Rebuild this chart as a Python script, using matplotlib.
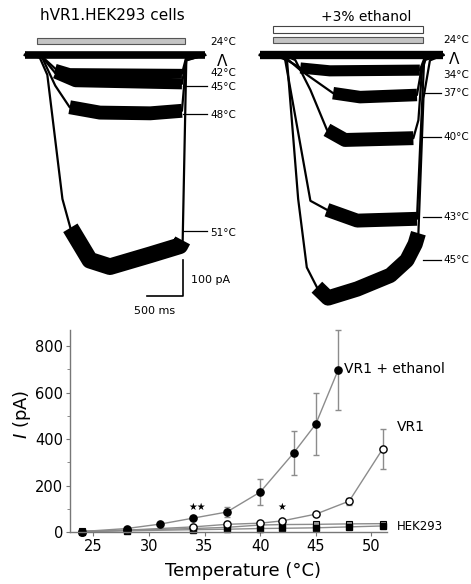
import matplotlib
matplotlib.use("Agg")
import matplotlib.pyplot as plt
from matplotlib.patches import Rectangle

plt.rcParams['font.family'] = ['DejaVu Sans']

# ---------------- current traces (time in ms, current in pA) ----------------
# control cells (left)
t_24 = [0, 2500]
i_24 = [0, 0]
t_42 = [0, 240, 420, 620, 2180, 2240, 2500]
i_42 = [0, -5, -38, -50, -52, -6, 0]
t_45 = [0, 240, 420, 700, 2180, 2240, 2500]
i_45 = [0, -6, -50, -74, -80, -8, 0]
t_48 = [0, 240, 420, 620, 1040, 1740, 2180, 2240, 2500]
i_48 = [0, -8, -85, -145, -160, -162, -155, -14, 0]
t_51 = [0, 200, 310, 520, 630, 900, 1180, 1740, 2150, 2190, 2240, 2500]
i_51 = [0, -5, -55, -400, -480, -570, -588, -555, -530, -515, -15, 0]

# +3% ethanol (right)
te_24 = [0, 2544]
ie_24 = [0, 0]
te_34 = [0, 280, 560, 970, 2220, 2290, 2544]
ie_34 = [0, -3, -36, -44, -42, -6, 0]
te_37 = [0, 350, 560, 1015, 1390, 2180, 2240, 2294, 2544]
ie_37 = [0, -6, -42, -106, -117, -111, -42, -6, 0]
te_40 = [0, 420, 490, 700, 930, 1180, 2130, 2200, 2250, 2310, 2544]
ie_40 = [0, -8, -14, -97, -208, -236, -231, -181, -42, -6, 0]
te_43 = [0, 280, 350, 700, 930, 1350, 2180, 2225, 2280, 2544]
ie_43 = [0, 0, -14, -405, -430, -460, -455, -250, -14, 0]
te_45 = [0, 250, 375, 530, 650, 790, 945, 1350, 1810, 2040, 2155, 2200, 2270, 2360, 2544]
ie_45 = [0, -5, -14, -400, -590, -645, -675, -650, -612, -570, -525, -495, -120, -15, 0]

left_labels = ['24°C', '42°C', '45°C', '48°C', '51°C']
left_label_y = [36, -50, -89, -167, -494]
right_labels = ['24°C', '34°C', '37°C', '40°C', '43°C', '45°C']
right_label_y = [42, -56, -106, -228, -450, -569]

# ---------------- summary data ----------------
temp_eth = [24, 28, 31, 34, 37, 40, 43, 45, 47]
i_eth = [2, 15, 34, 60, 86, 172, 340, 465, 697]
err_eth = [0, 3, 5, 10, 20, 55, 95, 133, 172]

temp_vr1 = [24, 28, 34, 37, 40, 42, 45, 48, 51]
i_vr1 = [2, 8, 22, 33, 38, 48, 77, 133, 357]
err_vr1 = [0, 2, 4, 5, 5, 6, 8, 15, 85]

temp_hek = [24, 28, 34, 37, 40, 42, 45, 48, 51]
i_hek = [2, 5, 10, 12, 15, 16, 18, 22, 26]
i_hek_eth = [3, 8, 15, 20, 30, 32, 33, 35, 36]

W, H = 471, 584
MS_PER_PX = 500 / 36.0
PA_PER_PX = 100 / 36.0

fig = plt.figure(figsize=(W / 100, H / 100), dpi=100)


def px_axes(x0, x1, y0, y1, ox, oy):
    ax = fig.add_axes([x0 / W, 1 - y1 / H, (x1 - x0) / W, (y1 - y0) / H])
    ax.set_xlim((x0 - ox) * MS_PER_PX, (x1 - ox) * MS_PER_PX)
    ax.set_ylim(-(y1 - oy) * PA_PER_PX, -(y0 - oy) * PA_PER_PX)
    ax.axis('off')
    return ax


def draw_trace(ax, t, i, lo, hi, band):
    # thin trace for the fast phases, thick band for the noisy plateau
    ax.plot(t, i, color='k', lw=1.6, solid_joinstyle='round', clip_on=False)
    ax.plot(t[lo:hi + 1], i[lo:hi + 1], color='k', lw=band,
            solid_capstyle='butt', solid_joinstyle='round', clip_on=False)


# left traces
axl = px_axes(0, 240, 0, 330, 25, 55)
axl.add_patch(Rectangle((167, 31), 2224 - 167, 16, facecolor='#c4c4c4',
                        edgecolor='#555555', lw=0.8))
draw_trace(axl, t_51, i_51, 4, 9, 12)
draw_trace(axl, t_48, i_48, 3, 6, 10)
draw_trace(axl, t_45, i_45, 2, 4, 8)
draw_trace(axl, t_42, i_42, 2, 4, 7)
draw_trace(axl, t_24, i_24, 0, 1, 5.5)
axl.text(1208, 111, 'hVR1.HEK293 cells', ha='center', va='center', fontsize=11)

for lab, y in zip(left_labels, left_label_y):
    axl.text(2570, y, lab, ha='left', va='center', fontsize=7.5)
    if lab in ('45°C', '48°C', '51°C'):
        axl.plot([2195, 2530], [y + 4, y + 4], color='k', lw=0.9, clip_on=False)
axl.text(2740, -17, 'Λ', ha='center', va='center', fontsize=11)

# scale bar: 500 ms, 100 pA
axl.plot([1695, 2195, 2195], [-669, -669, -569], color='k', lw=1.2)
axl.text(2300, -625, '100 pA', ha='left', va='center', fontsize=8)
axl.text(1806, -712, '500 ms', ha='center', va='center', fontsize=8)

# right traces
axr = px_axes(240, 471, 0, 330, 260, 55)
axr.add_patch(Rectangle((181, 61), 2266 - 181, 20, facecolor='white',
                        edgecolor='#444444', lw=0.8))
axr.add_patch(Rectangle((181, 33), 2266 - 181, 17, facecolor='#c4c4c4',
                        edgecolor='#555555', lw=0.8))
draw_trace(axr, te_45, ie_45, 5, 11, 11)
draw_trace(axr, te_43, ie_43, 4, 6, 10)
draw_trace(axr, te_40, ie_40, 4, 6, 10)
draw_trace(axr, te_37, ie_37, 3, 5, 9)
draw_trace(axr, te_34, ie_34, 2, 4, 8)
draw_trace(axr, te_24, ie_24, 0, 1, 6)
axr.text(1472, 106, '+3% ethanol', ha='center', va='center', fontsize=10)

for lab, y in zip(right_labels, right_label_y):
    axr.text(2542, y, lab, ha='left', va='center', fontsize=7.5)
    if lab not in ('24°C', '34°C'):
        axr.plot([2264, 2510], [y, y], color='k', lw=0.9, clip_on=False)
axr.text(2700, -12, 'Λ', ha='center', va='center', fontsize=11)

# ---------------- summary plot ----------------
ax = fig.add_axes([70 / W, 52 / H, 317 / W, 202 / H])
line_kw = dict(color='#8c8c8c', lw=1.0, clip_on=False, zorder=2)
ax.plot(temp_hek, i_hek_eth, marker='s', ms=5, mfc='#9a9a9a', mec='k', mew=0.8, **line_kw)
ax.plot(temp_hek, i_hek, marker='s', ms=5, mfc='k', mec='k', **line_kw)
ax.errorbar(temp_vr1, i_vr1, yerr=err_vr1, fmt='none', ecolor='#8c8c8c',
            elinewidth=1, capsize=2.5, capthick=1, clip_on=False)
ax.plot(temp_vr1, i_vr1, marker='o', ms=5.2, mfc='white', mec='k', mew=1.0, **line_kw)
ax.errorbar(temp_eth, i_eth, yerr=err_eth, fmt='none', ecolor='#8c8c8c',
            elinewidth=1, capsize=2.5, capthick=1, clip_on=False)
ax.plot(temp_eth, i_eth, marker='o', ms=5.2, mfc='k', mec='k', **line_kw)

ax.set_xlim(22.9, 51.4)
ax.set_ylim(0, 870)
ax.set_xticks([25, 30, 35, 40, 45, 50])
ax.set_yticks([0, 200, 400, 600, 800])
ax.set_yticks([100, 300, 500, 700], minor=True)
for s in ('top', 'right'):
    ax.spines[s].set_visible(False)
for s in ('left', 'bottom'):
    ax.spines[s].set_color('#777777')
    ax.spines[s].set_linewidth(1.0)
ax.tick_params(which='both', direction='out', color='#777777', length=3,
               labelsize=10.5, pad=2)
ax.tick_params(which='minor', length=2)

ax.set_xlabel('Temperature (°C)', fontsize=13)
ax.set_ylabel(r'$I$ (pA)', fontsize=13)
ax.xaxis.set_label_coords(0.546, -0.15)
ax.yaxis.set_label_coords(-0.118, 0.58)

ax.text(34.3, 107, '★★', ha='center', va='center', fontsize=7)
ax.text(41.9, 110, '★', ha='center', va='center', fontsize=7)
ax.text(47.5, 700, 'VR1 + ethanol', ha='left', va='center', fontsize=10)
ax.text(52.3, 452, 'VR1', ha='left', va='center', fontsize=10, clip_on=False)
ax.text(52.3, 22, 'HEK293', ha='left', va='center', fontsize=8.5, clip_on=False)

fig.savefig('out.png', dpi=100)
